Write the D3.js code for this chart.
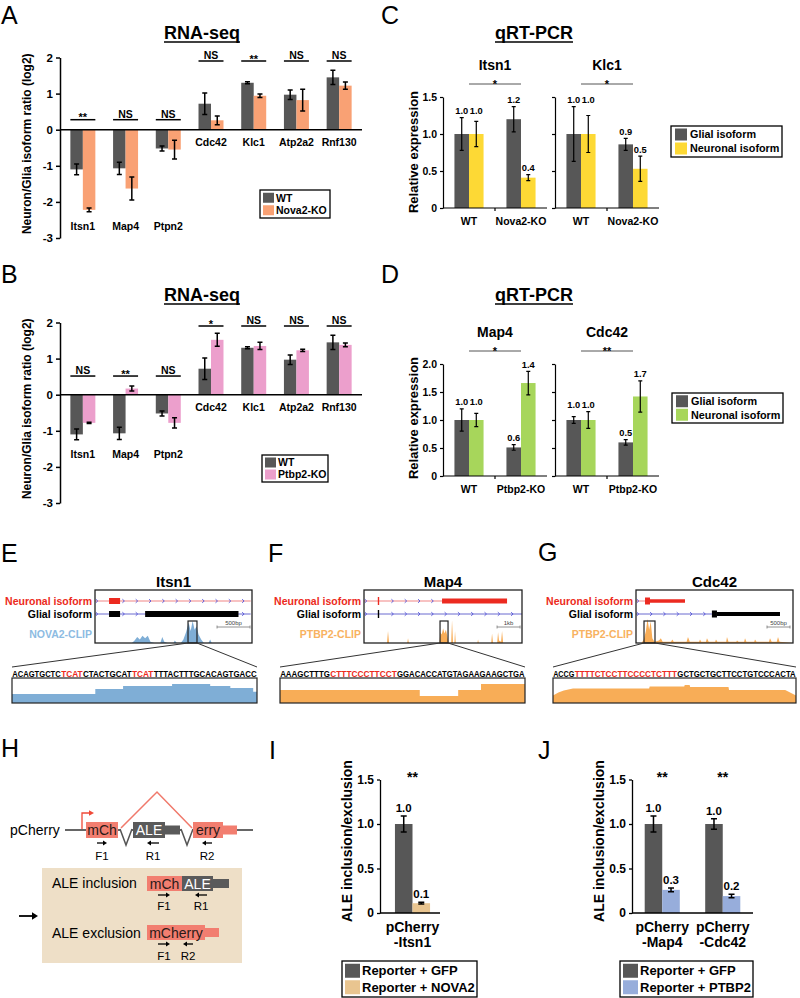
<!DOCTYPE html>
<html><head><meta charset="utf-8">
<script src="https://d3js.org/d3.v7.min.js"></script>
<style>
body{margin:0;background:#fff;}
</style></head><body>
<svg id="fig" width="800" height="998"></svg>
<script>
// ================= DATA =================
// Panels A/B: RNA-seq neuron/glia isoform ratio (log2)
const rnaGenes = ["Itsn1","Map4","Ptpn2","Cdc42","Klc1","Atp2a2","Rnf130"];
const rnaTicks = [-3,-2,-1,0,1,2];
const rnaWT = [-1.10,-1.07,-0.52,0.72,1.30,0.97,1.45];
const rnaWTErr = [0.15,0.17,0.07,0.30,0.03,0.13,0.20];
const rnaNova2KO = [-2.22,-1.63,-0.55,0.26,0.94,0.82,1.22];
const rnaNova2KOErr = [0.05,0.32,0.26,0.12,0.05,0.30,0.10];
const rnaNova2Sig = ["**","NS","NS","NS","**","NS","NS"];
const rnaPtbp2KO = [-0.78,0.17,-0.78,1.52,1.35,1.23,1.38];
const rnaPtbp2KOErr = [0.02,0.07,0.14,0.18,0.10,0.03,0.05];
const rnaPtbp2Sig = ["NS","**","NS","*","NS","NS","NS"];

// Panels C/D: qRT-PCR relative expression
const qIsoforms = ["Glial isoform","Neuronal isoform"];
const qCondC = ["WT","Nova2-KO"];
const qCondD = ["WT","Ptbp2-KO"];
const qTicksC = [0,0.5,1.0,1.5];
const qTicksD = [0,0.5,1.0,1.5,2.0];
const qItsn1Glial = [1.00,1.20], qItsn1GlialErr = [0.22,0.17], qItsn1GlialLab = ["1.0","1.2"];
const qItsn1Neur  = [1.00,0.41], qItsn1NeurErr  = [0.17,0.04], qItsn1NeurLab  = ["1.0","0.4"];
const qKlc1Glial  = [1.00,0.86], qKlc1GlialErr  = [0.37,0.08], qKlc1GlialLab  = ["1.0","0.9"];
const qKlc1Neur   = [1.00,0.53], qKlc1NeurErr   = [0.25,0.17], qKlc1NeurLab   = ["1.0","0.5"];
const qMap4Glial  = [1.00,0.51], qMap4GlialErr  = [0.20,0.05], qMap4GlialLab  = ["1.0","0.6"];
const qMap4Neur   = [1.00,1.66], qMap4NeurErr   = [0.12,0.21], qMap4NeurLab   = ["1.0","1.4"];
const qCdc42Glial = [1.00,0.60], qCdc42GlialErr = [0.06,0.05], qCdc42GlialLab = ["1.0","0.5"];
const qCdc42Neur  = [1.00,1.42], qCdc42NeurErr  = [0.15,0.28], qCdc42NeurLab  = ["1.0","1.7"];

// Panels E/F/G: gene models (bp), CLIP coverage ([bp, relative height]), zoomed sequences
const itsn1Len = 2380;
const itsn1NeurLine = [0,2360], itsn1NeurExons = [[213,380,6]];
const itsn1GlialLine = [0,2360], itsn1GlialExons = [[213,380,6],[760,2175,6]];
const itsn1Clip = [[0,0],[560,0],[600,0.1],[640,0.25],[680,0.15],[720,0.3],[760,0.2],[800,0.3],[840,0.05],[900,0],[990,0],[1020,0.25],[1050,0.05],[1100,0],[1190,0],[1210,0.1],[1240,0],[1300,0],[1340,0.15],[1380,0.45],[1420,0.85],[1450,0.5],[1480,0.92],[1510,0.55],[1540,0.7],[1570,0.35],[1610,0.15],[1650,0],[1720,0],[1745,0.15],[1770,0],[2380,0]];
const itsn1Window = [1410,1546], itsn1ScaleBar = [1850,2350];
const itsn1Seq = [["ACAGTGCTC",0],["TCAT",1],["CTACTGCAT",0],["TCAT",1],["TTTACTTTGCACAGTGACC",0]];
const itsn1Cov = [[0,0.36],[15.3,0.56],[20.4,0.68],[29.4,0.76],[36.4,0.68],[40.1,0.6],[44.3,0.45],[45,0.45]];

const map4Len = 6870;
const map4NeurLine = [0,3393], map4NeurExons = [[600,660,8],[3393,6220,5]];
const map4GlialLine = [0,6870], map4GlialExons = [[600,660,8]];
const map4Clip = [[0,0],[1000,0],[1044,0.5],[1090,0],[1880,0],[1914,0.2],[1950,0],[3280,0],[3320,0.45],[3380,0.35],[3440,0.6],[3500,0.4],[3560,0.55],[3620,0.3],[3680,0],[3790,0],[3828,0.95],[3870,0],[3930,0],[3958,0.5],[3990,0],[4930,0],[4959,0.15],[4990,0],[5530,0],[5568,0.4],[5610,0],[5790,0],[5829,0.45],[5870,0.1],[5960,0.05],[6003,0.5],[6050,0],[6870,0]];
const map4Window = [3306,3654], map4ScaleBar = [5786,6786];
const map4Seq = [["AAAGCTTTG",0],["CTTTCCCTTCCT",1],["GGACACCATGTAGAAGAAGCTGA",0]];
const map4Cov = [[0,0.52],[25.1,0.28],[32,0.52],[36.1,0.76],[44,0.76]];

const cdc42Len = 3413;
const cdc42NeurLine = [0,196], cdc42NeurExons = [[196,304,7],[304,1065,3.5]];
const cdc42GlialLine = [0,1650], cdc42GlialExons = [[1650,1760,7],[1760,3130,4]];
const cdc42Clip = [[0,0],[120,0],[170,0.15],[215,0.5],[250,1.0],[285,0.55],[320,0.9],[355,0.2],[400,0.05],[500,0.1],[540,0.2],[580,0.05],[760,0.05],[790,0.15],[820,0.05],[1100,0.05],[1130,0.25],[1170,0.05],[1370,0.05],[1391,0.15],[1420,0.05],[1520,0.05],[1543,0.2],[1580,0.05],[1720,0.05],[1739,0.15],[1770,0.05],[1960,0.05],[1978,0.25],[2010,0.05],[2180,0.05],[2196,0.1],[2230,0.05],[2350,0.05],[2370,0.2],[2400,0.05],[2570,0.05],[2587,0.15],[2620,0.05],[2890,0.05],[2913,0.2],[2950,0.05],[3060,0.05],[3087,0.25],[3120,0.05],[3413,0]];
const cdc42Window = [174,413], cdc42ScaleBar = [2848,3348];
const cdc42Seq = [["ACCG",0],["TTTTCTCCTTCCCCTCTTT",1],["GCTGCTGCTTCCTGTCCCACTA",0]];
const cdc42Cov = [[0,0.3],[1,0.42],[2,0.5],[3.7,0.58],[17.8,0.58],[17.9,0.66],[24.3,0.66],[24.4,0.72],[25.3,0.72],[25.4,0.64],[32.5,0.64],[32.6,0.52],[43,0.52],[45,0.3]];

// Panel H: reporter construct schematic (construct units)
const hBackbone = [65,253];
const hExons = [{s:86,e:118,lab:"mCh",kind:"red"},{s:133,e:165,lab:"ALE",kind:"gray"},{s:193,e:223,lab:"erry",kind:"red"}];
const hTails = [{s:165,e:180,kind:"gray"},{s:223,e:237,kind:"red"}];
const hIntrons = [[120,132],[181,193]];
const hArc = [121,157,192];
const hPrimers = [{s:97,e:107,dir:1,lab:"F1"},{s:147,e:159,dir:-1,lab:"R1"},{s:202,e:212,dir:-1,lab:"R2"}];
const hInclExons = [{s:147,e:182,lab:"mCh",kind:"red"},{s:182,e:213,lab:"ALE",kind:"gray"}];
const hInclTails = [{s:213,e:229,kind:"gray"}];
const hInclPrimers = [{s:158,e:170,dir:1,lab:"F1"},{s:195,e:207,dir:-1,lab:"R1"}];
const hExclExons = [{s:147,e:205,lab:"mCherry",kind:"red"}];
const hExclTails = [{s:205,e:219,kind:"red"}];
const hExclPrimers = [{s:158,e:170,dir:1,lab:"F1"},{s:183,e:193,dir:-1,lab:"R2"}];

// Panels I/J: ALE inclusion/exclusion
const repTicks = [0,0.5,1.0,1.5];
const repGroupsI = ["pCherry-Itsn1"];
const repGfpI = [1.00], repGfpErrI = [0.09], repGfpLabI = ["1.0"];
const repNova2 = [0.11], repNova2Err = [0.01], repNova2Lab = ["0.1"];
const repSigI = ["**"];
const repGroupsJ = ["pCherry-Map4","pCherry-Cdc42"];
const repGfpJ = [1.00,1.00], repGfpErrJ = [0.09,0.06], repGfpLabJ = ["1.0","1.0"];
const repPtbp2 = [0.26,0.19], repPtbp2Err = [0.02,0.02], repPtbp2Lab = ["0.3","0.2"];
const repSigJ = ["**","**"];

// ================= DRAWING =================
const FONT = "'Liberation Sans', Arial, Helvetica, sans-serif";
const COL = {gray:"#575757", nova2:"#f9a174", ptbp2:"#ec9fcc", yellow:"#fdd935", green:"#a7d65b",
  tan:"#e9c590", blue:"#97addb", clipBlue:"#7faed6", clipOrange:"#f8ad57", red:"#ec2a20",
  salmon:"#f27e70", dgray:"#5a5a5a"};
const svg = d3.select("#fig").attr("font-family", FONT);
svg.append("rect").attr("width",800).attr("height",998).attr("fill","#fff");

function T(g, x, y, s, o = {}) {
  const t = g.append("text").attr("x", x).attr("y", y).text(s)
    .attr("font-size", o.size || 12).attr("font-weight", o.weight || "bold")
    .attr("text-anchor", o.anchor || "start").attr("fill", o.fill || "#000");
  if (o.rotate) t.attr("transform", `rotate(${o.rotate},${x},${y})`);
  return t;
}
function styleAxis(ax, size, sw) {
  ax.attr("font-family", FONT);
  ax.select(".domain").attr("stroke", "#000").attr("stroke-width", sw);
  ax.selectAll(".tick line").attr("stroke", "#000").attr("stroke-width", sw);
  ax.selectAll(".tick text").attr("font-size", size).attr("font-weight", "bold").attr("fill", "#000");
}
function errBars(g, data, cx, y, cap, sw) {
  g.selectAll(null).data(data).join("path")
    .attr("d", d => { const x = cx(d), y1 = y(d.v - d.e), y2 = y(d.v + d.e);
      return `M${x},${y1}V${y2}M${x - cap/2},${y1}h${cap}M${x - cap/2},${y2}h${cap}`; })
    .attr("stroke", "#000").attr("stroke-width", sw).attr("fill", "none");
}
function legend(g, x, y, w, h, items, o) {
  g.append("rect").attr("x", x).attr("y", y).attr("width", w).attr("height", h)
    .attr("fill", "#fff").attr("stroke", "#000").attr("stroke-width", 1.3);
  items.forEach((it, i) => {
    const cy = y + o.pad + o.row * (i + 0.5);
    g.append("rect").attr("x", x + o.sx).attr("y", cy - o.sh/2).attr("width", o.sw).attr("height", o.sh).attr("fill", it.color);
    T(g, x + o.tx, cy + o.size * 0.36, it.label, {size: o.size});
  });
}
function underlinedTitle(cx, y, s) {
  const t = T(svg, cx, y, s, {size: 18, anchor: "middle"});
  const w = t.node().getComputedTextLength();
  svg.append("line").attr("x1", cx - w/2).attr("x2", cx + w/2).attr("y1", y + 3).attr("y2", y + 3)
    .attr("stroke", "#000").attr("stroke-width", 1.5);
}
function letter(x, y, s) { T(svg, x, y, s, {size: 25, weight: "normal"}); }

// ---------- A / B ----------
function rnaPanel(c) {
  const g = svg.append("g");
  const y = d3.scaleLinear().domain([-3, 2]).range([c.bottom, c.top]);
  const x = d3.scaleBand().domain(rnaGenes).range([61.5, 360.5]).paddingInner(0.415).paddingOuter(0.2075);
  const xs = d3.scaleBand().domain(["WT", c.koName]).range([0, x.bandwidth()]);
  const bars = [];
  rnaGenes.forEach((gn, i) => {
    bars.push({g: gn, k: "WT", v: rnaWT[i], e: rnaWTErr[i], col: COL.gray});
    bars.push({g: gn, k: c.koName, v: c.ko[i], e: c.koErr[i], col: c.color});
  });
  g.selectAll(null).data(bars).join("rect")
    .attr("x", d => x(d.g) + xs(d.k)).attr("width", xs.bandwidth())
    .attr("y", d => y(Math.max(0, d.v))).attr("height", d => Math.abs(y(d.v) - y(0)))
    .attr("fill", d => d.col);
  errBars(g, bars, d => x(d.g) + xs(d.k) + xs.bandwidth()/2, y, 5, 1.5);
  const ax = g.append("g").attr("transform", "translate(60,0)")
    .call(d3.axisLeft(y).tickValues(rnaTicks).tickSize(4).tickSizeOuter(0).tickFormat(d => String(d)));
  styleAxis(ax, 11.5, 1.5);
  g.append("line").attr("x1", 60).attr("x2", 362).attr("y1", y(0)).attr("y2", y(0))
    .attr("stroke", "#000").attr("stroke-width", 1.6);
  const idx = rnaGenes.map((_, i) => i);
  const isNeg = i => rnaWT[i] < 0;
  const negIdx = idx.filter(isNeg);
  const negLow = d3.min(negIdx, i => Math.min(rnaWT[i] - rnaWTErr[i], c.ko[i] - c.koErr[i]));
  const negHigh = d3.max(negIdx, i => Math.max(0, rnaWT[i] + rnaWTErr[i], c.ko[i] + c.koErr[i]));
  const negLabelY = y(negLow) + 18, posLabelY = y(0) + 16.5;
  const negSigY = y(negHigh) - 10, posSigY = y(2) + 3.5;
  rnaGenes.forEach((gn, i) => {
    const cx = x(gn) + x.bandwidth()/2;
    T(g, cx, isNeg(i) ? negLabelY : posLabelY, gn, {size: 10.5, anchor: "middle"});
    const sy = isNeg(i) ? negSigY : posSigY;
    g.append("line").attr("x1", x(gn)).attr("x2", x(gn) + x.bandwidth()).attr("y1", sy).attr("y2", sy)
      .attr("stroke", "#000").attr("stroke-width", 1.5);
    const star = c.sig[i].startsWith("*");
    T(g, cx, star ? sy + 1.5 : sy - 2, c.sig[i], {size: star ? 11 : 10.5, anchor: "middle"});
  });
  T(g, 31, (c.top + c.bottom)/2 - 4, "Neuron/Glia isoform ratio (log2)", {size: 12, anchor: "middle", rotate: -90});
  underlinedTitle(202, c.titleY, "RNA-seq");
  legend(g, c.leg[0], c.leg[1], c.leg[2], c.leg[3],
    [{label: "WT", color: COL.gray}, {label: c.koName, color: c.color}],
    {pad: 1.5, row: (c.leg[3] - 3)/2, sx: 3, sw: 11, sh: 10, tx: 16, size: 10.5});
}
letter(1, 24, "A");
rnaPanel({top: 57.5, bottom: 238, titleY: 39, ko: rnaNova2KO, koErr: rnaNova2KOErr, sig: rnaNova2Sig,
  color: COL.nova2, koName: "Nova2-KO", leg: [260, 190, 70, 28]});
letter(1, 283, "B");
rnaPanel({top: 322.5, bottom: 503, titleY: 301, ko: rnaPtbp2KO, koErr: rnaPtbp2KOErr, sig: rnaPtbp2Sig,
  color: COL.ptbp2, koName: "Ptbp2-KO", leg: [262, 455, 66, 27]});

// ---------- C / D ----------
function qSub(c) {
  const g = svg.append("g");
  const x = d3.scaleBand().domain(c.conds).range([c.axisX, c.axisX + 104]).paddingInner(0.44).paddingOuter(0.22);
  const xs = d3.scaleBand().domain(qIsoforms).range([0, x.bandwidth()]);
  const bars = [];
  c.conds.forEach((cd, i) => {
    bars.push({c: cd, k: qIsoforms[0], v: c.glial[i], e: c.glialErr[i], lab: c.glialLab[i], col: COL.gray, i});
    bars.push({c: cd, k: qIsoforms[1], v: c.neur[i], e: c.neurErr[i], lab: c.neurLab[i], col: c.color, i});
  });
  const cx = d => x(d.c) + xs(d.k) + xs.bandwidth()/2;
  g.selectAll(null).data(bars).join("rect")
    .attr("x", d => x(d.c) + xs(d.k)).attr("width", xs.bandwidth())
    .attr("y", d => c.y(d.v)).attr("height", d => c.y(0) - c.y(d.v)).attr("fill", d => d.col);
  errBars(g, bars, cx, c.y, 4, 1.2);
  bars.forEach(b => {
    const top = b.i === 0 ? Math.max(c.glial[0] + c.glialErr[0], c.neur[0] + c.neurErr[0]) : b.v + b.e;
    T(g, cx(b), c.y(top) - 3.5, b.lab, {size: 9.3, anchor: "middle"});
  });
  const ax = g.append("g").attr("transform", `translate(${c.axisX},0)`)
    .call(d3.axisLeft(c.y).tickValues(c.ticks).tickSize(3).tickSizeOuter(0)
      .tickFormat(c.showLabels ? (d => d === 0 ? "0" : d.toFixed(1)) : ""));
  styleAxis(ax, 10.5, 1.2);
  const y0 = c.y(0), yTop = c.y.range()[1];
  g.append("path").attr("d", `M${c.axisX},${y0}H${c.axisX + 104}M${c.axisX + 52},${y0}v3`)
    .attr("stroke", "#000").attr("stroke-width", 1.2);
  c.conds.forEach(cd => T(g, x(cd) + x.bandwidth()/2, y0 + 17, cd, {size: 10.5, anchor: "middle"}));
  T(g, c.axisX + 52, yTop - 27, c.title, {size: 14, anchor: "middle"});
  const sx1 = x(c.conds[0]) + x.bandwidth()/2, sx2 = x(c.conds[1]) + x.bandwidth()/2, sy = yTop - 13;
  g.append("line").attr("x1", sx1).attr("x2", sx2).attr("y1", sy).attr("y2", sy).attr("stroke", "#555").attr("stroke-width", 1);
  T(g, (sx1 + sx2)/2, sy + 3.5, c.sig, {size: 11, anchor: "middle"});
}
letter(381, 24, "C");
underlinedTitle(534, 39, "qRT-PCR");
const yC = d3.scaleLinear().domain([0, 1.5]).range([208, 97]);
qSub({axisX: 443, y: yC, ticks: qTicksC, showLabels: true, conds: qCondC, title: "Itsn1", sig: "*", color: COL.yellow,
  glial: qItsn1Glial, glialErr: qItsn1GlialErr, glialLab: qItsn1GlialLab, neur: qItsn1Neur, neurErr: qItsn1NeurErr, neurLab: qItsn1NeurLab});
qSub({axisX: 555, y: yC, ticks: qTicksC, showLabels: false, conds: qCondC, title: "Klc1", sig: "*", color: COL.yellow,
  glial: qKlc1Glial, glialErr: qKlc1GlialErr, glialLab: qKlc1GlialLab, neur: qKlc1Neur, neurErr: qKlc1NeurErr, neurLab: qKlc1NeurLab});
T(svg, 417.5, 152, "Relative expression", {size: 13, anchor: "middle", rotate: -90});
legend(svg, 671, 126, 111, 31, [{label: qIsoforms[0], color: COL.gray}, {label: qIsoforms[1], color: COL.yellow}],
  {pad: 1.5, row: 14, sx: 4, sw: 12, sh: 12, tx: 19, size: 10.8});

letter(381, 283, "D");
underlinedTitle(534, 301, "qRT-PCR");
const yD = d3.scaleLinear().domain([0, 2]).range([476, 364]);
qSub({axisX: 443, y: yD, ticks: qTicksD, showLabels: true, conds: qCondD, title: "Map4", sig: "*", color: COL.green,
  glial: qMap4Glial, glialErr: qMap4GlialErr, glialLab: qMap4GlialLab, neur: qMap4Neur, neurErr: qMap4NeurErr, neurLab: qMap4NeurLab});
qSub({axisX: 555, y: yD, ticks: qTicksD, showLabels: false, conds: qCondD, title: "Cdc42", sig: "**", color: COL.green,
  glial: qCdc42Glial, glialErr: qCdc42GlialErr, glialLab: qCdc42GlialLab, neur: qCdc42Neur, neurErr: qCdc42NeurErr, neurLab: qCdc42NeurLab});
T(svg, 417.5, 418, "Relative expression", {size: 13, anchor: "middle", rotate: -90});
legend(svg, 672, 393, 111, 30, [{label: qIsoforms[0], color: COL.gray}, {label: qIsoforms[1], color: COL.green}],
  {pad: 1.5, row: 13.5, sx: 4, sw: 12, sh: 12, tx: 19, size: 10.8});

// ---------- E / F / G ----------
function genePanel(c) {
  const g = svg.append("g");
  const x = d3.scaleLinear().domain([0, c.len]).range([c.x0, c.x1]);
  const yN = 601, yG = 614, boxT = 590, boxB = 643;
  T(g, (c.x0 + c.x1)/2, 587, c.title, {size: 15, anchor: "middle"});
  T(g, c.x0 - 3, yN + 4, "Neuronal isoform", {size: 10.5, anchor: "end", fill: COL.red});
  T(g, c.x0 - 3, yG + 4, "Glial isoform", {size: 10.5, anchor: "end"});
  T(g, c.x0 - 3, 638, c.clipLabel, {size: 10.5, anchor: "end", fill: c.clipLabelColor});
  function track(yy, line, exons, lineCol, exCol) {
    g.append("line").attr("x1", x(line[0])).attr("x2", x(line[1])).attr("y1", yy).attr("y2", yy)
      .attr("stroke", lineCol).attr("stroke-width", 1);
    const inEx = px => exons.some(e => px >= x(e[0]) - 2 && px <= x(e[1]) + 2);
    for (let px = x(line[0]) + 2; px < x(line[1]) - 2; px += 13.3) {
      if (inEx(px)) continue;
      g.append("path").attr("d", `M${px - 1.2},${yy - 1.8}L${px + 0.8},${yy}L${px - 1.2},${yy + 1.8}`)
        .attr("stroke", "#5656d8").attr("stroke-width", 0.9).attr("fill", "none");
    }
    g.selectAll(null).data(exons).join("rect")
      .attr("x", d => x(d[0])).attr("width", d => Math.max(1.3, x(d[1]) - x(d[0])))
      .attr("y", d => yy - d[2]/2).attr("height", d => d[2]).attr("fill", exCol);
  }
  track(yN, c.neurLine, c.neurExons, "#f08585", COL.red);
  track(yG, c.glialLine, c.glialExons, "#6a6ad0", "#000");
  const yc = d3.scaleLinear().domain([0, 1]).range([boxB, 619]);
  g.append("path").datum(c.clip)
    .attr("d", d3.area().x(d => x(d[0])).y0(boxB).y1(d => yc(d[1])))
    .attr("fill", c.clipColor);
  g.append("rect").attr("x", c.x0).attr("y", boxT).attr("width", c.x1 - c.x0).attr("height", boxB - boxT)
    .attr("fill", "none").attr("stroke", "#222").attr("stroke-width", 1.3);
  g.append("rect").attr("x", x(c.win[0])).attr("y", 621).attr("width", x(c.win[1]) - x(c.win[0])).attr("height", boxB - 621)
    .attr("fill", "none").attr("stroke", "#222").attr("stroke-width", 1.2);
  const sb0 = x(c.sbar[0]), sb1 = x(c.sbar[1]);
  g.append("path").attr("d", `M${sb0},627H${sb1}M${sb0},625.5v3M${sb1},625.5v3`)
    .attr("stroke", "#777").attr("stroke-width", 0.8).attr("fill", "none");
  T(g, (sb0 + sb1)/2, 624.5, c.sbarLabel, {size: 6, anchor: "middle", weight: "normal", fill: "#444"});
  // zoom lines
  g.append("path").attr("d", `M${x(c.win[0])},${boxB}L${c.sx0},667M${x(c.win[1])},${boxB}L${c.sx1},667`)
    .attr("stroke", "#333").attr("stroke-width", 1).attr("fill", "none");
  // sequence: each segment is its own text, sized so its natural width fits its share, stretched vertically
  const seqLen = d3.sum(c.seq, s => s[0].length);
  const xq = d3.scaleLinear().domain([0, seqLen]).range([c.sx0, c.sx1]);
  let pos = 0;
  c.seq.forEach(s => {
    const n = s[0].length;
    const x1 = xq(pos), w = xq(pos + n) - xq(pos) - 0.3;
    const t = g.append("text").attr("x", 0).attr("y", 0).attr("font-size", 10).attr("font-weight", "bold")
      .attr("fill", s[1] ? COL.red : "#000").text(s[0]);
    const nat = t.node().getComputedTextLength();
    const fs = 10 * w / nat;
    t.attr("font-size", fs).attr("transform", `translate(${x1 + 0.15},677) scale(1,${Math.min(1.35, 9.8 / fs)})`);
    pos += n;
  });
  const yq = d3.scaleLinear().domain([0, 1]).range([703, 678]);
  g.append("path").datum(c.cov)
    .attr("d", d3.area().curve(c.step ? d3.curveStepAfter : d3.curveLinear).x(d => xq(d[0])).y0(703).y1(d => yq(d[1])))
    .attr("fill", c.clipColor);
  g.append("rect").attr("x", c.sx0).attr("y", 678).attr("width", c.sx1 - c.sx0).attr("height", 25)
    .attr("fill", "none").attr("stroke", "#222").attr("stroke-width", 1.2);
}
letter(1, 562, "E");
genePanel({x0: 95, x1: 252, len: itsn1Len, title: "Itsn1", neurLine: itsn1NeurLine, neurExons: itsn1NeurExons,
  glialLine: itsn1GlialLine, glialExons: itsn1GlialExons, clip: itsn1Clip, clipColor: COL.clipBlue,
  clipLabel: "NOVA2-CLIP", clipLabelColor: "#8dbbe2", win: itsn1Window, sbar: itsn1ScaleBar, sbarLabel: "500bp",
  sx0: 12, sx1: 257, seq: itsn1Seq, cov: itsn1Cov, step: true});
letter(268, 562, "F");
genePanel({x0: 364, x1: 522, len: map4Len, title: "Map4", neurLine: map4NeurLine, neurExons: map4NeurExons,
  glialLine: map4GlialLine, glialExons: map4GlialExons, clip: map4Clip, clipColor: COL.clipOrange,
  clipLabel: "PTBP2-CLIP", clipLabelColor: "#f8b260", win: map4Window, sbar: map4ScaleBar, sbarLabel: "1kb",
  sx0: 280, sx1: 525, seq: map4Seq, cov: map4Cov, step: true});
letter(538, 561, "G");
genePanel({x0: 636, x1: 793, len: cdc42Len, title: "Cdc42", neurLine: cdc42NeurLine, neurExons: cdc42NeurExons,
  glialLine: cdc42GlialLine, glialExons: cdc42GlialExons, clip: cdc42Clip, clipColor: COL.clipOrange,
  clipLabel: "PTBP2-CLIP", clipLabelColor: "#f8b260", win: cdc42Window, sbar: cdc42ScaleBar, sbarLabel: "500bp",
  sx0: 553, sx1: 796, seq: cdc42Seq, cov: cdc42Cov, step: false});

// ---------- H ----------
(function () {
  const g = svg.append("g");
  const hx = d3.scaleLinear().domain([0, 300]).range([0, 300]);
  letter(1, 757, "H");
  const exColor = k => k === "red" ? COL.salmon : COL.dgray;
  function construct(yc, exons, tails, h, th) {
    g.selectAll(null).data(tails).join("rect")
      .attr("x", d => hx(d.s)).attr("width", d => hx(d.e) - hx(d.s)).attr("y", yc - th/2).attr("height", th)
      .attr("fill", d => exColor(d.kind));
    g.selectAll(null).data(exons).join("rect")
      .attr("x", d => hx(d.s)).attr("width", d => hx(d.e) - hx(d.s)).attr("y", yc - h/2).attr("height", h)
      .attr("fill", d => exColor(d.kind));
    exons.forEach(d => T(g, (hx(d.s) + hx(d.e))/2, yc + 5, d.lab,
      {size: 14, weight: "normal", anchor: "middle", fill: d.kind === "gray" ? "#fff" : "#2a1a18"}));
  }
  function primers(yy, list, labY) {
    list.forEach(p => {
      const a = p.dir > 0 ? hx(p.s) : hx(p.e), b = p.dir > 0 ? hx(p.e) : hx(p.s);
      g.append("line").attr("x1", a).attr("x2", b - 2 * p.dir).attr("y1", yy).attr("y2", yy).attr("stroke", "#000").attr("stroke-width", 1.3);
      g.append("path").attr("d", `M${b},${yy}L${b - 4 * p.dir},${yy - 2.6}L${b - 4 * p.dir},${yy + 2.6}Z`).attr("fill", "#000");
      T(g, (hx(p.s) + hx(p.e))/2, labY, p.lab, {size: 11.5, weight: "normal", anchor: "middle"});
    });
  }
  g.append("rect").attr("x", hx(42)).attr("y", 868).attr("width", hx(242) - hx(42)).attr("height", 95).attr("fill", "#eedfc7");
  T(g, 10, 835, "pCherry", {size: 14, weight: "normal"});
  g.append("line").attr("x1", hx(hBackbone[0])).attr("x2", hx(hBackbone[1])).attr("y1", 830).attr("y2", 830)
    .attr("stroke", "#333").attr("stroke-width", 1.3);
  g.append("path").attr("d", `M${hx(hArc[0])},828L${hx(hArc[1])},792L${hx(hArc[2])},828`)
    .attr("stroke", "#f0796b").attr("stroke-width", 1.5).attr("fill", "none");
  g.selectAll(null).data(hIntrons).join("path")
    .attr("d", d => `M${hx(d[0])},829L${(hx(d[0]) + hx(d[1]))/2},845L${hx(d[1])},829`)
    .attr("stroke", "#555").attr("stroke-width", 1.5).attr("fill", "#fff");
  construct(830, hExons, hTails, 16, 9);
  g.append("path").attr("d", `M${hx(82)},829V813H${hx(90)}`).attr("stroke", "#f04a38").attr("stroke-width", 1.3).attr("fill", "none");
  g.append("path").attr("d", `M${hx(94)},813L${hx(89)},810.3L${hx(89)},815.7Z`).attr("fill", "#f04a38");
  primers(843, hPrimers, 860);
  g.append("line").attr("x1", 19).attr("x2", 33).attr("y1", 916).attr("y2", 916).attr("stroke", "#000").attr("stroke-width", 1.8);
  g.append("path").attr("d", "M38,916L32,912.3L32,919.7Z").attr("fill", "#000");
  T(g, 52, 888, "ALE inclusion", {size: 14, weight: "normal"});
  T(g, 52, 938, "ALE exclusion", {size: 14, weight: "normal"});
  construct(883.5, hInclExons, hInclTails, 15, 9);
  primers(895, hInclPrimers, 910);
  construct(932.5, hExclExons, hExclTails, 15, 9);
  primers(944, hExclPrimers, 960);
})();

// ---------- I / J ----------
function reporterPanel(c) {
  const g = svg.append("g");
  const y = d3.scaleLinear().domain([0, 1.5]).range([913, 779.5]);
  const x = d3.scaleBand().domain(c.groups).range(c.range).paddingInner(c.pad).paddingOuter(c.pad/2);
  const xs = d3.scaleBand().domain(["GFP", c.treatName]).range([0, x.bandwidth()]);
  const bars = [];
  c.groups.forEach((gr, i) => {
    bars.push({g: gr, k: "GFP", v: c.gfp[i], e: c.gfpErr[i], lab: c.gfpLab[i], col: COL.gray});
    bars.push({g: gr, k: c.treatName, v: c.treat[i], e: c.treatErr[i], lab: c.treatLab[i], col: c.color});
  });
  const cx = d => x(d.g) + xs(d.k) + xs.bandwidth()/2;
  g.selectAll(null).data(bars).join("rect")
    .attr("x", d => x(d.g) + xs(d.k)).attr("width", xs.bandwidth())
    .attr("y", d => y(d.v)).attr("height", d => y(0) - y(d.v)).attr("fill", d => d.col);
  errBars(g, bars, cx, y, 6, 1.5);
  bars.forEach(b => T(g, cx(b), y(b.v + b.e) - 4, b.lab, {size: 11.5, anchor: "middle"}));
  const ax = g.append("g").attr("transform", `translate(${c.axisX},0)`)
    .call(d3.axisLeft(y).tickValues(repTicks).tickSize(3).tickSizeOuter(0).tickFormat(d => d === 0 ? "0" : d.toFixed(1)));
  styleAxis(ax, 12, 1.3);
  g.append("line").attr("x1", c.axisX).attr("x2", c.axisEnd).attr("y1", y(0)).attr("y2", y(0)).attr("stroke", "#000").attr("stroke-width", 1.3);
  c.groups.forEach((gr, i) => {
    const gx = x(gr) + x.bandwidth()/2;
    const k = gr.indexOf("-");
    T(g, gx, 932, gr.slice(0, k), {size: 14, anchor: "middle"});
    T(g, gx, 947, gr.slice(k), {size: 14, anchor: "middle"});
    T(g, gx, 782, c.sig[i], {size: 14, anchor: "middle"});
  });
  T(g, c.axisX - 28, 841, "ALE inclusion/exclusion", {size: 14, anchor: "middle", rotate: -90});
  legend(g, c.leg[0], 961, c.leg[1], 36, [{label: "Reporter + GFP", color: COL.gray}, {label: "Reporter + " + c.treatName, color: c.color}],
    {pad: 1.5, row: 16.5, sx: 3, sw: 15, sh: 14, tx: 20, size: 13});
}
letter(269, 759, "I");
reporterPanel({groups: repGroupsI, range: [380, 445], pad: 0.46, axisX: 380, axisEnd: 440, treatName: "NOVA2", color: COL.tan,
  gfp: repGfpI, gfpErr: repGfpErrI, gfpLab: repGfpLabI, treat: repNova2, treatErr: repNova2Err, treatLab: repNova2Lab,
  sig: repSigI, leg: [342, 135]});
letter(538, 759, "J");
reporterPanel({groups: repGroupsJ, range: [632, 753], pad: 0.42, axisX: 632, axisEnd: 753, treatName: "PTBP2", color: COL.blue,
  gfp: repGfpJ, gfpErr: repGfpErrJ, gfpLab: repGfpLabJ, treat: repPtbp2, treatErr: repPtbp2Err, treatLab: repPtbp2Lab,
  sig: repSigJ, leg: [620, 133]});
</script>
</body></html>
